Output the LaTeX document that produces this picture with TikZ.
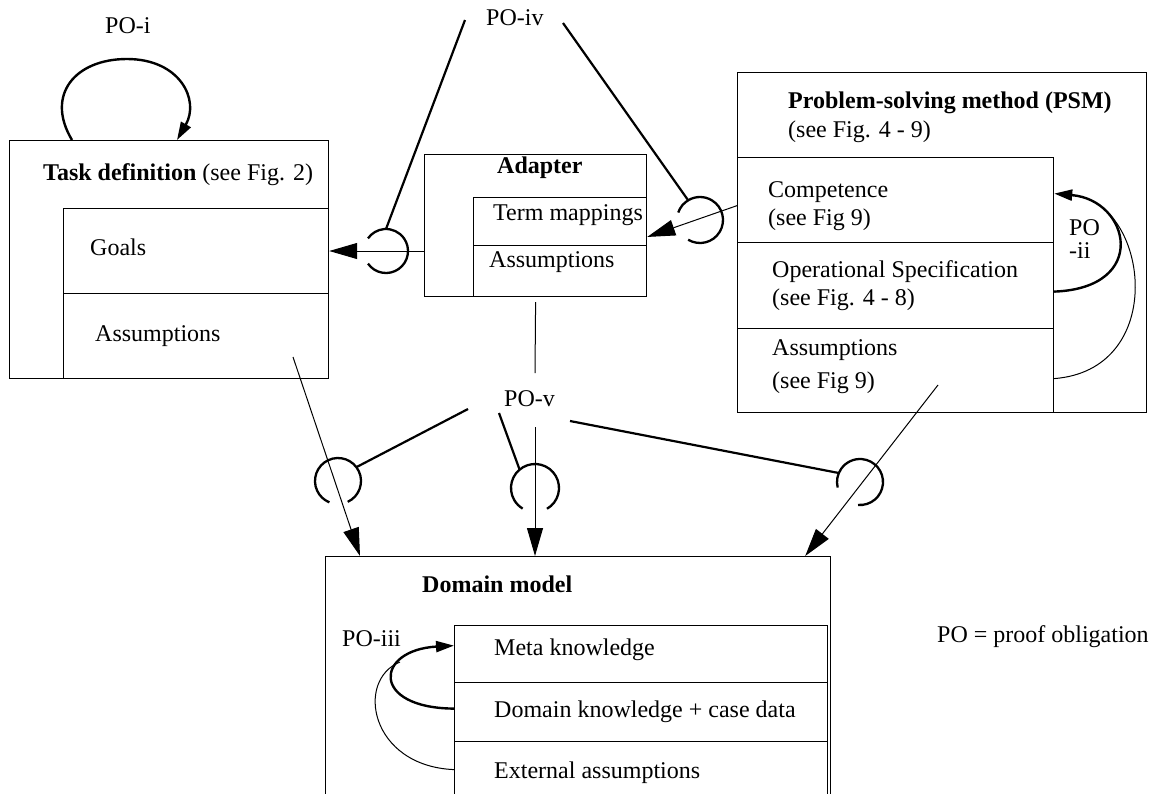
\documentclass[tikz,border=0pt]{standalone}
\usepackage{fontspec}
\setmainfont{Liberation Serif}
\usetikzlibrary{arrows.meta,calc}

\begin{document}
\begin{tikzpicture}[x=1pt,y=1pt,font=\fontsize{24}{28}\selectfont,
  box/.style={draw,line width=1.2pt,anchor=north west},
  txt/.style={anchor=base west},
  socket/.style={line width=2.3pt},
  wire/.style={line width=2.2pt},
  thinline/.style={line width=1pt},
  arrowline/.style={line width=1pt,-{Triangle[length=28pt,width=16pt]}},
  loopline/.style={line width=2.4pt,-{Triangle[length=18pt,width=11pt]}}]
\tikzstyle{every node}+=[inner sep=0pt]
\useasboundingbox (0,0) rectangle (1156,-793);
\node [box,minimum width=319pt,minimum height=238pt] (task) at (9,-140) {};
\node [box,minimum width=265pt,minimum height=85pt] (goalrow) at (63,-208) {};
\node [box,minimum width=265pt,minimum height=85pt] (tassrow) at (63,-293) {};
\node [box,minimum width=222pt,minimum height=142pt] (adapter) at (424,-154) {};
\node [box,minimum width=173pt,minimum height=48pt] (termrow) at (473,-197) {};
\node [box,minimum width=173pt,minimum height=51pt] (aassrow) at (473,-245) {};
\node [box,minimum width=409pt,minimum height=340pt] (psm) at (737,-72) {};
\node [box,minimum width=316pt,minimum height=85pt] (comprow) at (737,-157) {};
\node [box,minimum width=316pt,minimum height=86pt] (oprow) at (737,-242) {};
\node [box,minimum width=316pt,minimum height=84pt] (passrow) at (737,-328) {};
\node [box,minimum width=505pt,minimum height=250pt] (domain) at (325,-556) {};
\node [box,minimum width=373pt,minimum height=57pt] (metarow) at (454,-625) {};
\node [box,minimum width=373pt,minimum height=59pt] (dkrow) at (454,-682) {};
\node [box,minimum width=373pt,minimum height=65pt] (extrow) at (454,-741) {};
\node [txt] (poilabel) at (105,-33) {PO-i};
\node [txt] (tasktitle) at (43,-180) {\textbf{Task definition} (see Fig. 2)};
\node [txt] (goals) at (90,-255) {Goals};
\node [txt] (tassum) at (95,-341) {Assumptions};
\node [txt] (adtitle) at (497,-173) {\textbf{Adapter}};
\node [txt] (termmap) at (493,-220) {Term mappings};
\node [txt] (aassum) at (489,-267) {Assumptions};
\node [txt] (poivlabel) at (486,-25) {PO-iv};
\node [txt] (psmtitle) at (788,-108) {\textbf{Problem-solving method (PSM)}};
\node [txt] (psmsee) at (788,-137) {(see Fig. 4 - 9)};
\node [txt] (competence) at (768,-197) {Competence};
\node [txt] (compsee) at (768,-225) {(see Fig 9)};
\node [txt] (opspec) at (772,-277) {Operational Specification};
\node [txt] (opsee) at (772,-305) {(see Fig. 4 - 8)};
\node [txt] (passum) at (772,-355) {Assumptions};
\node [txt] (passsee) at (772,-388) {(see Fig 9)};
\node [txt] (poiilabel) at (1069,-235) {PO};
\node [txt] (poiilabelb) at (1069,-258) {-ii};
\node [txt] (povlabel) at (504,-406) {PO-v};
\node [txt] (domtitle) at (422,-592) {\textbf{Domain model}};
\node [txt] (poiiilabel) at (342,-646) {PO-iii};
\node [txt] (meta) at (494,-655) {Meta knowledge};
\node [txt] (domknow) at (494,-717) {Domain knowledge + case data};
\node [txt] (extassum) at (494,-778) {External assumptions};
\node [txt] (legend) at (937,-642) {PO = proof obligation};
\coordinate (s1) at (386,-251);
\coordinate (s2) at (700,-220);
\coordinate (s3) at (338,-481);
\coordinate (s4) at (535,-488);
\coordinate (s5) at (860,-482);
\coordinate (piv1) at (465,-20);
\coordinate (piv2) at (563,-23);
\coordinate (pv0) at (535,-373);
\coordinate (pv1) at (468,-409);
\coordinate (pv2) at (499,-413);
\coordinate (pv3) at (570,-421);
\coordinate (pv4) at (535,-427);
\coordinate (tasspt) at (293,-357);
\coordinate (passpt) at (938,-385);
\draw [loopline] ($(task.north west)+(63,0)$) .. controls (45,-95) and (75,-59) .. (127,-59) .. controls (180,-59) and (200,-100) .. ($(task.north west)+(168,0)$);
\draw [loopline] ($(oprow.east)+(0,-6)$) .. controls (1150,-288) and (1130,-200) .. ($(comprow.east)+(0,6.5)$);
\draw [thinline] ($(passrow.east)+(0,-8)$) .. controls (1165,-370) and (1150,-215) .. (1082,-197);
\draw [loopline] ($(dkrow.west)+(0,3.5)$) .. controls (370,-708) and (375,-650) .. ($(metarow.west)+(0,8.5)$);
\draw [thinline] ($(extrow.west)+(0,4.5)$) .. controls (370,-766) and (355,-680) .. (400,-662);
\draw [arrowline] (s1 -| adapter.west) -- (s1 -| task.east);
\draw [arrowline] (comprow.182) -- (termrow.-10);
\draw [thinline] ($(adapter.south)+(0,-5)$) -- (pv0);
\draw [arrowline] (tasspt) -- ($(domain.north west)+(35,0)$);
\draw [arrowline] (pv4) -- (pv4 |- domain.north);
\draw [arrowline] (passpt) -- ($(domain.north east)+(-26,0)$);
\draw [wire] (piv1) -- ($(s1)+(90:22)$);
\draw [wire] (piv2) -- ($(s2)+(121:23)$);
\draw [wire] (pv1) -- ($(s3)+(37:23)$);
\draw [wire] (pv2) -- ($(s4)+(130:24)$);
\draw [wire] (pv3) -- ($(s5)+(157:23)$);
\draw [socket] ($(s1)+(-145:22)$) arc [start angle=-145,end angle=145,radius=22];
\draw [socket] ($(s2)+(-121:23)$) arc [start angle=-121,end angle=161,radius=23];
\draw [socket] ($(s3)+(-65:23)$) arc [start angle=-65,end angle=248,radius=23];
\draw [socket] ($(s4)+(-60:24)$) arc [start angle=-60,end angle=239,radius=24];
\draw [socket] ($(s5)+(-95:23)$) arc [start angle=-95,end angle=194,radius=23];
\end{tikzpicture}
\end{document}
